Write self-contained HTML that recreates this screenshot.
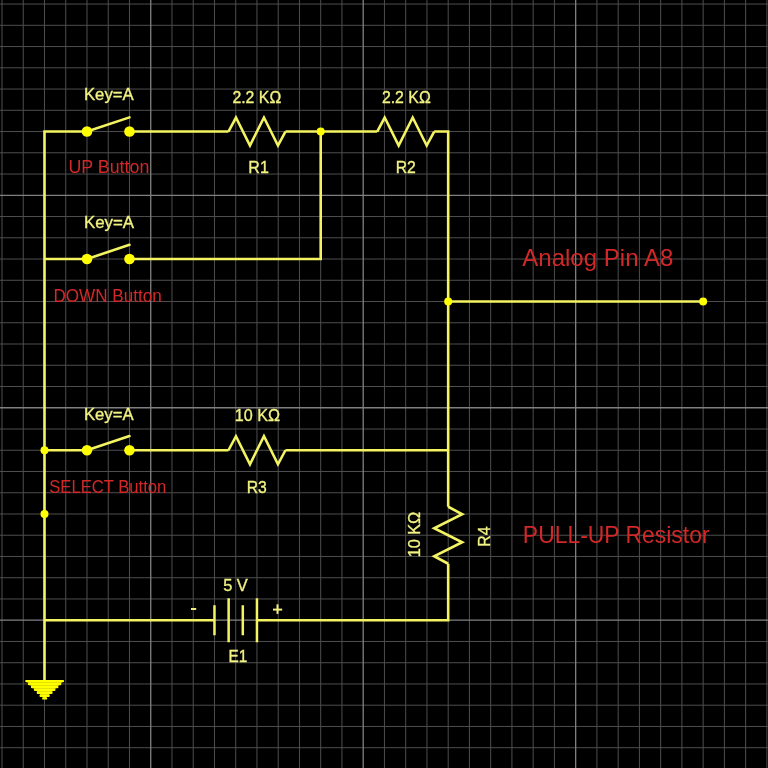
<!DOCTYPE html><html><head><meta charset="utf-8"><style>html,body{margin:0;padding:0;background:#000;width:768px;height:768px;overflow:hidden}svg{display:block}text{font-family:"Liberation Sans",sans-serif}</style></head><body>
<svg style="will-change:transform" width="768" height="768" viewBox="0 0 768 768">
<rect width="768" height="768" fill="#000"/>
<path d="M2.0 0V768M23.25 0V768M44.49 0V768M65.74 0V768M86.99 0V768M108.23 0V768M129.48 0V768M171.98 0V768M193.22 0V768M214.47 0V768M235.72 0V768M256.96 0V768M278.21 0V768M299.46 0V768M320.7 0V768M341.95 0V768M384.45 0V768M405.69 0V768M426.94 0V768M448.19 0V768M469.43 0V768M490.68 0V768M511.93 0V768M533.17 0V768M554.42 0V768M596.92 0V768M618.16 0V768M639.41 0V768M660.66 0V768M681.9 0V768M703.15 0V768M724.4 0V768M745.64 0V768M766.89 0V768M0 4.06H768M0 25.31H768M0 46.55H768M0 67.8H768M0 89.05H768M0 110.3H768M0 131.54H768M0 152.79H768M0 174.04H768M0 216.53H768M0 237.78H768M0 259.02H768M0 280.27H768M0 301.52H768M0 322.76H768M0 344.01H768M0 365.26H768M0 386.51H768M0 429.0H768M0 450.25H768M0 471.49H768M0 492.74H768M0 513.99H768M0 535.23H768M0 556.48H768M0 577.73H768M0 598.98H768M0 641.47H768M0 662.72H768M0 683.96H768M0 705.21H768M0 726.46H768M0 747.7H768M0 768.95H768" stroke="#4e4e4e" stroke-width="1.0" fill="none"/>
<path d="M150.73 0V768M363.2 0V768M575.67 0V768M0 195.28H768M0 407.75H768M0 620.22H768" stroke="#808080" stroke-width="1.3" fill="none"/>
<path d="M86.99 131.54H44.49V681M129.48 131.54H228.46M228.46 131.54L235.96 117.54L249.96 145.54L263.96 117.54L277.96 145.54L285.46 131.54M285.46 131.54H377.19M377.19 131.54L384.69 117.54L398.69 145.54L412.69 117.54L426.69 145.54L434.19 131.54M434.19 131.54H448.19V506.73M448.19 506.73L462.19 514.23L434.19 528.23L462.19 542.23L434.19 556.23L448.19 563.73M448.19 563.73V620.22H256.96M214.47 620.22H44.49M44.49 259.02H86.99M129.48 259.02H320.7V131.54M44.49 450.25H86.99M129.48 450.25H228.46M228.46 450.25L235.96 436.25L249.96 464.25L263.96 436.25L277.96 464.25L285.46 450.25M285.46 450.25H448.19M448.19 301.52H703.15" stroke="#f4f462" stroke-width="2.6" fill="none" stroke-linejoin="miter" stroke-miterlimit="10"/>
<path d="M214.47 605.22V635.22M228.64 598.22V642.22M242.8 605.22V635.22M256.96 598.22V642.22" stroke="#f4f462" stroke-width="2.5" fill="none"/>
<path d="M86.99 131.54L129.48 117.37M86.99 259.02L129.48 244.85M86.99 450.25L129.48 436.08" stroke="#f4f462" stroke-width="2.6" stroke-linecap="round" fill="none"/>
<circle cx="86.99" cy="131.54" r="5.3" fill="#ffff00"/>
<circle cx="129.48" cy="131.54" r="5.3" fill="#ffff00"/>
<circle cx="86.99" cy="259.02" r="5.3" fill="#ffff00"/>
<circle cx="129.48" cy="259.02" r="5.3" fill="#ffff00"/>
<circle cx="86.99" cy="450.25" r="5.3" fill="#ffff00"/>
<circle cx="129.48" cy="450.25" r="5.3" fill="#ffff00"/>
<circle cx="320.7" cy="131.54" r="4" fill="#ffff00"/>
<circle cx="448.19" cy="301.52" r="4" fill="#ffff00"/>
<circle cx="703.15" cy="301.52" r="4" fill="#ffff00"/>
<circle cx="44.49" cy="450.25" r="4" fill="#ffff00"/>
<circle cx="44.49" cy="513.99" r="4" fill="#ffff00"/>
<path d="M26 681.1H63.3L44.65 699Z" fill="#c8c800"/><path d="M26.35 681.1H62.95M29.15 684.0H60.15M32.05 686.95H57.25M34.95 689.85H54.35M37.85 692.8H51.45M40.65 695.7H48.65M43.25 698.4H46.05" stroke="#ffff00" stroke-width="2.4" stroke-linecap="round" fill="none"/><rect x="191" y="608" width="5.2" height="2" fill="#eeee78"/><rect x="273" y="608.6" width="9.2" height="2" fill="#eeee78"/><rect x="276.5" y="604.3" width="2" height="9.6" fill="#eeee78"/>
<text x="83.95" y="100.37" fill="#f2f282" stroke="#f2f282" stroke-width="0.35" font-size="17.2" textLength="49.71" lengthAdjust="spacingAndGlyphs">Key=A</text>
<text x="83.92" y="228.02" fill="#f2f282" stroke="#f2f282" stroke-width="0.35" font-size="17.2" textLength="50.15" lengthAdjust="spacingAndGlyphs">Key=A</text>
<text x="83.94" y="419.52" fill="#f2f282" stroke="#f2f282" stroke-width="0.35" font-size="17.2" textLength="49.58" lengthAdjust="spacingAndGlyphs">Key=A</text>
<text x="68.44" y="173.41" fill="#d42828" stroke="#d42828" stroke-width="0.0" font-size="17.6" textLength="80.92" lengthAdjust="spacingAndGlyphs">UP Button</text>
<text x="53.5" y="301.6" fill="#d42828" stroke="#d42828" stroke-width="0.0" font-size="17.6" textLength="108.18" lengthAdjust="spacingAndGlyphs">DOWN Button</text>
<text x="49.26" y="492.8" fill="#d42828" stroke="#d42828" stroke-width="0.0" font-size="17.6" textLength="117.07" lengthAdjust="spacingAndGlyphs">SELECT Button</text>
<text x="232.43" y="102.67" fill="#f2f282" stroke="#f2f282" stroke-width="0.35" font-size="17.2" textLength="48.8" lengthAdjust="spacingAndGlyphs">2.2 K&#937;</text>
<text x="381.91" y="102.67" fill="#f2f282" stroke="#f2f282" stroke-width="0.35" font-size="17.2" textLength="48.85" lengthAdjust="spacingAndGlyphs">2.2 K&#937;</text>
<text x="248.3" y="173.27" fill="#f2f282" stroke="#f2f282" stroke-width="0.35" font-size="17.2" textLength="20.51" lengthAdjust="spacingAndGlyphs">R1</text>
<text x="395.67" y="173.32" fill="#f2f282" stroke="#f2f282" stroke-width="0.35" font-size="17.2" textLength="20.11" lengthAdjust="spacingAndGlyphs">R2</text>
<text x="234.71" y="421.47" fill="#f2f282" stroke="#f2f282" stroke-width="0.35" font-size="17.2" textLength="45.32" lengthAdjust="spacingAndGlyphs">10 K&#937;</text>
<text x="246.74" y="492.62" fill="#f2f282" stroke="#f2f282" stroke-width="0.35" font-size="17.2" textLength="20.14" lengthAdjust="spacingAndGlyphs">R3</text>
<text x="223.17" y="591.37" fill="#f2f282" stroke="#f2f282" stroke-width="0.35" font-size="17.2" textLength="24.66" lengthAdjust="spacingAndGlyphs">5 V</text>
<text x="228.62" y="662.32" fill="#f2f282" stroke="#f2f282" stroke-width="0.35" font-size="17.2" textLength="18.8" lengthAdjust="spacingAndGlyphs">E1</text>
<text x="522.24" y="265.5" fill="#d42828" stroke="#d42828" stroke-width="0.0" font-size="23.2" textLength="151.09" lengthAdjust="spacingAndGlyphs">Analog Pin A8</text>
<text x="522.86" y="543.3" fill="#d42828" stroke="#d42828" stroke-width="0.0" font-size="23.2" textLength="186.66" lengthAdjust="spacingAndGlyphs">PULL-UP Resistor</text>
<text x="0" y="0" fill="#f2f282" stroke="#f2f282" stroke-width="0.35" font-size="17.2" text-anchor="start" textLength="45.53" lengthAdjust="spacingAndGlyphs" transform="translate(419.5 557.29) rotate(-90)">10 K&#937;</text>
<text x="0" y="0" fill="#f2f282" stroke="#f2f282" stroke-width="0.35" font-size="17.2" text-anchor="start" textLength="20.44" lengthAdjust="spacingAndGlyphs" transform="translate(490.15 546.78) rotate(-90)">R4</text>
</svg></body></html>
